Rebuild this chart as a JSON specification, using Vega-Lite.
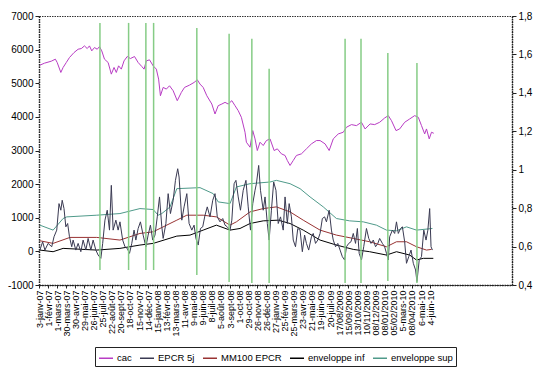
{
  "$schema": "https://vega.github.io/schema/vega-lite/v6.json",
  "width": 473,
  "height": 269,
  "autosize": {"type": "none"},
  "padding": {"left": 39, "top": 16, "right": 33, "bottom": 87},
  "background": "white",
  "config": {
    "view": {"stroke": "#333333", "strokeDash": [1.5, 1]},
    "font": "Liberation Sans",
    "axis": {"grid": false, "labelFont": "Liberation Sans", "labelColor": "black", "domainColor": "#222222", "tickColor": "#222222", "domainDash": [1.5, 1], "domainWidth": 1.5, "title": null},
    "axisX": {"labelOverlap": false, "labelSeparation": 0}
  },
  "datasets": {
    "series": [
      {"serie": "cac", "jour": 2, "valeur": 5538}, {"serie": "cac", "jour": 12, "valeur": 5597}, {"serie": "cac", "jour": 27, "valeur": 5656}, {"serie": "cac", "jour": 36, "valeur": 5716}, {"serie": "cac", "jour": 40, "valeur": 5617}, {"serie": "cac", "jour": 48, "valeur": 5321}, {"serie": "cac", "jour": 53, "valeur": 5469}, {"serie": "cac", "jour": 60, "valeur": 5617}, {"serie": "cac", "jour": 67, "valeur": 5765}, {"serie": "cac", "jour": 77, "valeur": 5913}, {"serie": "cac", "jour": 86, "valeur": 6012}, {"serie": "cac", "jour": 93, "valeur": 6032}, {"serie": "cac", "jour": 100, "valeur": 6111}, {"serie": "cac", "jour": 106, "valeur": 6032}, {"serie": "cac", "jour": 111, "valeur": 6111}, {"serie": "cac", "jour": 116, "valeur": 5963}, {"serie": "cac", "jour": 122, "valeur": 6062}, {"serie": "cac", "jour": 128, "valeur": 6012}, {"serie": "cac", "jour": 133, "valeur": 6091}, {"serie": "cac", "jour": 138, "valeur": 5963}, {"serie": "cac", "jour": 144, "valeur": 5716}, {"serie": "cac", "jour": 152, "valeur": 5617}, {"serie": "cac", "jour": 159, "valeur": 5271}, {"serie": "cac", "jour": 165, "valeur": 5469}, {"serie": "cac", "jour": 170, "valeur": 5321}, {"serie": "cac", "jour": 175, "valeur": 5518}, {"serie": "cac", "jour": 181, "valeur": 5420}, {"serie": "cac", "jour": 187, "valeur": 5666}, {"serie": "cac", "jour": 194, "valeur": 5795}, {"serie": "cac", "jour": 201, "valeur": 5735}, {"serie": "cac", "jour": 210, "valeur": 5795}, {"serie": "cac", "jour": 218, "valeur": 5617}, {"serie": "cac", "jour": 226, "valeur": 5498}, {"serie": "cac", "jour": 231, "valeur": 5420}, {"serie": "cac", "jour": 236, "valeur": 5666}, {"serie": "cac", "jour": 243, "valeur": 5696}, {"serie": "cac", "jour": 251, "valeur": 5518}, {"serie": "cac", "jour": 258, "valeur": 5420}, {"serie": "cac", "jour": 263, "valeur": 5123}, {"serie": "cac", "jour": 267, "valeur": 4629}, {"serie": "cac", "jour": 273, "valeur": 4876}, {"serie": "cac", "jour": 280, "valeur": 4827}, {"serie": "cac", "jour": 287, "valeur": 4925}, {"serie": "cac", "jour": 295, "valeur": 4777}, {"serie": "cac", "jour": 304, "valeur": 4481}, {"serie": "cac", "jour": 313, "valeur": 4728}, {"serie": "cac", "jour": 320, "valeur": 4876}, {"serie": "cac", "jour": 331, "valeur": 4945}, {"serie": "cac", "jour": 341, "valeur": 5024}, {"serie": "cac", "jour": 348, "valeur": 5103}, {"serie": "cac", "jour": 354, "valeur": 4975}, {"serie": "cac", "jour": 361, "valeur": 4876}, {"serie": "cac", "jour": 369, "valeur": 4629}, {"serie": "cac", "jour": 380, "valeur": 4382}, {"serie": "cac", "jour": 387, "valeur": 4086}, {"serie": "cac", "jour": 394, "valeur": 4333}, {"serie": "cac", "jour": 402, "valeur": 4382}, {"serie": "cac", "jour": 409, "valeur": 4432}, {"serie": "cac", "jour": 416, "valeur": 4382}, {"serie": "cac", "jour": 424, "valeur": 4481}, {"serie": "cac", "jour": 431, "valeur": 4333}, {"serie": "cac", "jour": 438, "valeur": 4185}, {"serie": "cac", "jour": 445, "valeur": 3987}, {"serie": "cac", "jour": 453, "valeur": 3543}, {"serie": "cac", "jour": 456, "valeur": 3246}, {"serie": "cac", "jour": 464, "valeur": 3098}, {"serie": "cac", "jour": 470, "valeur": 3592}, {"serie": "cac", "jour": 475, "valeur": 3345}, {"serie": "cac", "jour": 480, "valeur": 2999}, {"serie": "cac", "jour": 486, "valeur": 3246}, {"serie": "cac", "jour": 493, "valeur": 3148}, {"serie": "cac", "jour": 500, "valeur": 3296}, {"serie": "cac", "jour": 508, "valeur": 3345}, {"serie": "cac", "jour": 517, "valeur": 2999}, {"serie": "cac", "jour": 524, "valeur": 3049}, {"serie": "cac", "jour": 533, "valeur": 2901}, {"serie": "cac", "jour": 541, "valeur": 2852}, {"serie": "cac", "jour": 546, "valeur": 2703}, {"serie": "cac", "jour": 552, "valeur": 2555}, {"serie": "cac", "jour": 559, "valeur": 2703}, {"serie": "cac", "jour": 566, "valeur": 2852}, {"serie": "cac", "jour": 577, "valeur": 2901}, {"serie": "cac", "jour": 588, "valeur": 3049}, {"serie": "cac", "jour": 599, "valeur": 3197}, {"serie": "cac", "jour": 610, "valeur": 3296}, {"serie": "cac", "jour": 618, "valeur": 3296}, {"serie": "cac", "jour": 629, "valeur": 3197}, {"serie": "cac", "jour": 638, "valeur": 2999}, {"serie": "cac", "jour": 647, "valeur": 3345}, {"serie": "cac", "jour": 658, "valeur": 3493}, {"serie": "cac", "jour": 669, "valeur": 3543}, {"serie": "cac", "jour": 676, "valeur": 3691}, {"serie": "cac", "jour": 687, "valeur": 3770}, {"serie": "cac", "jour": 698, "valeur": 3740}, {"serie": "cac", "jour": 709, "valeur": 3839}, {"serie": "cac", "jour": 717, "valeur": 3641}, {"serie": "cac", "jour": 728, "valeur": 3790}, {"serie": "cac", "jour": 738, "valeur": 3770}, {"serie": "cac", "jour": 749, "valeur": 3839}, {"serie": "cac", "jour": 760, "valeur": 3967}, {"serie": "cac", "jour": 768, "valeur": 4037}, {"serie": "cac", "jour": 775, "valeur": 3888}, {"serie": "cac", "jour": 785, "valeur": 3592}, {"serie": "cac", "jour": 793, "valeur": 3641}, {"serie": "cac", "jour": 804, "valeur": 3839}, {"serie": "cac", "jour": 815, "valeur": 3938}, {"serie": "cac", "jour": 826, "valeur": 4037}, {"serie": "cac", "jour": 834, "valeur": 3987}, {"serie": "cac", "jour": 841, "valeur": 3740}, {"serie": "cac", "jour": 848, "valeur": 3493}, {"serie": "cac", "jour": 852, "valeur": 3641}, {"serie": "cac", "jour": 858, "valeur": 3345}, {"serie": "cac", "jour": 863, "valeur": 3543}, {"serie": "cac", "jour": 868, "valeur": 3513},

      {"serie": "enveloppe sup", "jour": 2, "valeur": 780}, {"serie": "enveloppe sup", "jour": 31, "valeur": 632}, {"serie": "enveloppe sup", "jour": 53, "valeur": 977}, {"serie": "enveloppe sup", "jour": 61, "valeur": 1026}, {"serie": "enveloppe sup", "jour": 127, "valeur": 1076}, {"serie": "enveloppe sup", "jour": 178, "valeur": 1125}, {"serie": "enveloppe sup", "jour": 222, "valeur": 1273}, {"serie": "enveloppe sup", "jour": 251, "valeur": 1244}, {"serie": "enveloppe sup", "jour": 262, "valeur": 1076}, {"serie": "enveloppe sup", "jour": 270, "valeur": 1125}, {"serie": "enveloppe sup", "jour": 288, "valeur": 1320}, {"serie": "enveloppe sup", "jour": 303, "valeur": 1865}, {"serie": "enveloppe sup", "jour": 354, "valeur": 1895}, {"serie": "enveloppe sup", "jour": 383, "valeur": 1717}, {"serie": "enveloppe sup", "jour": 394, "valeur": 1471}, {"serie": "enveloppe sup", "jour": 420, "valeur": 1421}, {"serie": "enveloppe sup", "jour": 434, "valeur": 1915}, {"serie": "enveloppe sup", "jour": 464, "valeur": 2013}, {"serie": "enveloppe sup", "jour": 508, "valeur": 2063}, {"serie": "enveloppe sup", "jour": 522, "valeur": 2112}, {"serie": "enveloppe sup", "jour": 552, "valeur": 2013}, {"serie": "enveloppe sup", "jour": 574, "valeur": 1865}, {"serie": "enveloppe sup", "jour": 596, "valeur": 1619}, {"serie": "enveloppe sup", "jour": 625, "valeur": 1323}, {"serie": "enveloppe sup", "jour": 654, "valeur": 977}, {"serie": "enveloppe sup", "jour": 683, "valeur": 908}, {"serie": "enveloppe sup", "jour": 713, "valeur": 878}, {"serie": "enveloppe sup", "jour": 742, "valeur": 780}, {"serie": "enveloppe sup", "jour": 764, "valeur": 632}, {"serie": "enveloppe sup", "jour": 786, "valeur": 612}, {"serie": "enveloppe sup", "jour": 808, "valeur": 730}, {"serie": "enveloppe sup", "jour": 830, "valeur": 632}, {"serie": "enveloppe sup", "jour": 865, "valeur": 681},

      {"serie": "MM100 EPCR", "jour": 2, "valeur": 316}, {"serie": "MM100 EPCR", "jour": 31, "valeur": 237}, {"serie": "MM100 EPCR", "jour": 68, "valeur": 415}, {"serie": "MM100 EPCR", "jour": 127, "valeur": 415}, {"serie": "MM100 EPCR", "jour": 178, "valeur": 336}, {"serie": "MM100 EPCR", "jour": 222, "valeur": 533}, {"serie": "MM100 EPCR", "jour": 251, "valeur": 582}, {"serie": "MM100 EPCR", "jour": 303, "valeur": 928}, {"serie": "MM100 EPCR", "jour": 325, "valeur": 1076}, {"serie": "MM100 EPCR", "jour": 361, "valeur": 1076}, {"serie": "MM100 EPCR", "jour": 390, "valeur": 1026}, {"serie": "MM100 EPCR", "jour": 420, "valeur": 780}, {"serie": "MM100 EPCR", "jour": 434, "valeur": 878}, {"serie": "MM100 EPCR", "jour": 464, "valeur": 1174}, {"serie": "MM100 EPCR", "jour": 493, "valeur": 1273}, {"serie": "MM100 EPCR", "jour": 522, "valeur": 1323}, {"serie": "MM100 EPCR", "jour": 552, "valeur": 1174}, {"serie": "MM100 EPCR", "jour": 581, "valeur": 928}, {"serie": "MM100 EPCR", "jour": 618, "valeur": 632}, {"serie": "MM100 EPCR", "jour": 654, "valeur": 484}, {"serie": "MM100 EPCR", "jour": 691, "valeur": 385}, {"serie": "MM100 EPCR", "jour": 727, "valeur": 286}, {"serie": "MM100 EPCR", "jour": 764, "valeur": 138}, {"serie": "MM100 EPCR", "jour": 786, "valeur": 286}, {"serie": "MM100 EPCR", "jour": 808, "valeur": 286}, {"serie": "MM100 EPCR", "jour": 830, "valeur": 138}, {"serie": "MM100 EPCR", "jour": 852, "valeur": 39}, {"serie": "MM100 EPCR", "jour": 863, "valeur": 59},

      {"serie": "enveloppe inf", "jour": 2, "valeur": 39}, {"serie": "enveloppe inf", "jour": 31, "valeur": -10}, {"serie": "enveloppe inf", "jour": 53, "valeur": 89}, {"serie": "enveloppe inf", "jour": 127, "valeur": 39}, {"serie": "enveloppe inf", "jour": 178, "valeur": 89}, {"serie": "enveloppe inf", "jour": 222, "valeur": 188}, {"serie": "enveloppe inf", "jour": 251, "valeur": 237}, {"serie": "enveloppe inf", "jour": 303, "valeur": 454}, {"serie": "enveloppe inf", "jour": 332, "valeur": 484}, {"serie": "enveloppe inf", "jour": 361, "valeur": 632}, {"serie": "enveloppe inf", "jour": 390, "valeur": 780}, {"serie": "enveloppe inf", "jour": 420, "valeur": 632}, {"serie": "enveloppe inf", "jour": 442, "valeur": 681}, {"serie": "enveloppe inf", "jour": 464, "valeur": 829}, {"serie": "enveloppe inf", "jour": 493, "valeur": 908}, {"serie": "enveloppe inf", "jour": 526, "valeur": 928}, {"serie": "enveloppe inf", "jour": 552, "valeur": 829}, {"serie": "enveloppe inf", "jour": 581, "valeur": 632}, {"serie": "enveloppe inf", "jour": 618, "valeur": 336}, {"serie": "enveloppe inf", "jour": 654, "valeur": 188}, {"serie": "enveloppe inf", "jour": 691, "valeur": 59}, {"serie": "enveloppe inf", "jour": 727, "valeur": -10}, {"serie": "enveloppe inf", "jour": 764, "valeur": -109}, {"serie": "enveloppe inf", "jour": 786, "valeur": -10}, {"serie": "enveloppe inf", "jour": 815, "valeur": -109}, {"serie": "enveloppe inf", "jour": 830, "valeur": -257}, {"serie": "enveloppe inf", "jour": 845, "valeur": -207}, {"serie": "enveloppe inf", "jour": 867, "valeur": -207},

      {"serie": "EPCR 5j", "jour": 2, "valeur": 39}, {"serie": "EPCR 5j", "jour": 8, "valeur": 286}, {"serie": "EPCR 5j", "jour": 13, "valeur": 39}, {"serie": "EPCR 5j", "jour": 20, "valeur": 237}, {"serie": "EPCR 5j", "jour": 28, "valeur": 138}, {"serie": "EPCR 5j", "jour": 33, "valeur": 434}, {"serie": "EPCR 5j", "jour": 39, "valeur": 632}, {"serie": "EPCR 5j", "jour": 44, "valeur": 1421}, {"serie": "EPCR 5j", "jour": 48, "valeur": 1224}, {"serie": "EPCR 5j", "jour": 51, "valeur": 1520}, {"serie": "EPCR 5j", "jour": 55, "valeur": 1273}, {"serie": "EPCR 5j", "jour": 59, "valeur": 730}, {"serie": "EPCR 5j", "jour": 63, "valeur": 829}, {"serie": "EPCR 5j", "jour": 67, "valeur": 434}, {"serie": "EPCR 5j", "jour": 72, "valeur": 138}, {"serie": "EPCR 5j", "jour": 75, "valeur": 336}, {"serie": "EPCR 5j", "jour": 81, "valeur": 39}, {"serie": "EPCR 5j", "jour": 86, "valeur": 237}, {"serie": "EPCR 5j", "jour": 92, "valeur": -10}, {"serie": "EPCR 5j", "jour": 97, "valeur": 336}, {"serie": "EPCR 5j", "jour": 103, "valeur": 39}, {"serie": "EPCR 5j", "jour": 108, "valeur": 385}, {"serie": "EPCR 5j", "jour": 114, "valeur": 39}, {"serie": "EPCR 5j", "jour": 119, "valeur": 336}, {"serie": "EPCR 5j", "jour": 125, "valeur": 39}, {"serie": "EPCR 5j", "jour": 130, "valeur": -109}, {"serie": "EPCR 5j", "jour": 136, "valeur": -207}, {"serie": "EPCR 5j", "jour": 140, "valeur": 237}, {"serie": "EPCR 5j", "jour": 145, "valeur": 928}, {"serie": "EPCR 5j", "jour": 150, "valeur": 1224}, {"serie": "EPCR 5j", "jour": 155, "valeur": 632}, {"serie": "EPCR 5j", "jour": 159, "valeur": 1964}, {"serie": "EPCR 5j", "jour": 163, "valeur": 632}, {"serie": "EPCR 5j", "jour": 169, "valeur": 928}, {"serie": "EPCR 5j", "jour": 174, "valeur": 632}, {"serie": "EPCR 5j", "jour": 178, "valeur": 878}, {"serie": "EPCR 5j", "jour": 184, "valeur": 336}, {"serie": "EPCR 5j", "jour": 189, "valeur": 138}, {"serie": "EPCR 5j", "jour": 194, "valeur": 89}, {"serie": "EPCR 5j", "jour": 199, "valeur": -59}, {"serie": "EPCR 5j", "jour": 204, "valeur": 237}, {"serie": "EPCR 5j", "jour": 209, "valeur": 632}, {"serie": "EPCR 5j", "jour": 213, "valeur": 336}, {"serie": "EPCR 5j", "jour": 218, "valeur": 681}, {"serie": "EPCR 5j", "jour": 223, "valeur": 878}, {"serie": "EPCR 5j", "jour": 229, "valeur": 484}, {"serie": "EPCR 5j", "jour": 235, "valeur": 138}, {"serie": "EPCR 5j", "jour": 240, "valeur": 484}, {"serie": "EPCR 5j", "jour": 245, "valeur": 780}, {"serie": "EPCR 5j", "jour": 250, "valeur": 336}, {"serie": "EPCR 5j", "jour": 255, "valeur": 484}, {"serie": "EPCR 5j", "jour": 260, "valeur": 1026}, {"serie": "EPCR 5j", "jour": 265, "valeur": 1619}, {"serie": "EPCR 5j", "jour": 270, "valeur": 730}, {"serie": "EPCR 5j", "jour": 273, "valeur": 385}, {"serie": "EPCR 5j", "jour": 279, "valeur": 829}, {"serie": "EPCR 5j", "jour": 284, "valeur": 1717}, {"serie": "EPCR 5j", "jour": 289, "valeur": 1125}, {"serie": "EPCR 5j", "jour": 295, "valeur": 1520}, {"serie": "EPCR 5j", "jour": 300, "valeur": 2112}, {"serie": "EPCR 5j", "jour": 305, "valeur": 2458}, {"serie": "EPCR 5j", "jour": 308, "valeur": 2211}, {"serie": "EPCR 5j", "jour": 314, "valeur": 928}, {"serie": "EPCR 5j", "jour": 319, "valeur": 1323}, {"serie": "EPCR 5j", "jour": 325, "valeur": 1717}, {"serie": "EPCR 5j", "jour": 330, "valeur": 829}, {"serie": "EPCR 5j", "jour": 336, "valeur": 632}, {"serie": "EPCR 5j", "jour": 341, "valeur": 780}, {"serie": "EPCR 5j", "jour": 345, "valeur": 385}, {"serie": "EPCR 5j", "jour": 350, "valeur": 188}, {"serie": "EPCR 5j", "jour": 355, "valeur": 681}, {"serie": "EPCR 5j", "jour": 360, "valeur": 730}, {"serie": "EPCR 5j", "jour": 365, "valeur": 1076}, {"serie": "EPCR 5j", "jour": 370, "valeur": 1323}, {"serie": "EPCR 5j", "jour": 376, "valeur": 1026}, {"serie": "EPCR 5j", "jour": 382, "valeur": 1520}, {"serie": "EPCR 5j", "jour": 387, "valeur": 1717}, {"serie": "EPCR 5j", "jour": 392, "valeur": 1026}, {"serie": "EPCR 5j", "jour": 398, "valeur": 878}, {"serie": "EPCR 5j", "jour": 404, "valeur": 977}, {"serie": "EPCR 5j", "jour": 409, "valeur": 780}, {"serie": "EPCR 5j", "jour": 414, "valeur": 730}, {"serie": "EPCR 5j", "jour": 420, "valeur": 632}, {"serie": "EPCR 5j", "jour": 424, "valeur": 928}, {"serie": "EPCR 5j", "jour": 429, "valeur": 2013}, {"serie": "EPCR 5j", "jour": 433, "valeur": 2112}, {"serie": "EPCR 5j", "jour": 438, "valeur": 1619}, {"serie": "EPCR 5j", "jour": 443, "valeur": 1224}, {"serie": "EPCR 5j", "jour": 449, "valeur": 1816}, {"serie": "EPCR 5j", "jour": 455, "valeur": 2112}, {"serie": "EPCR 5j", "jour": 460, "valeur": 1323}, {"serie": "EPCR 5j", "jour": 465, "valeur": 632}, {"serie": "EPCR 5j", "jour": 470, "valeur": 1421}, {"serie": "EPCR 5j", "jour": 475, "valeur": 1816}, {"serie": "EPCR 5j", "jour": 478, "valeur": 2013}, {"serie": "EPCR 5j", "jour": 483, "valeur": 2556}, {"serie": "EPCR 5j", "jour": 487, "valeur": 1816}, {"serie": "EPCR 5j", "jour": 493, "valeur": 1224}, {"serie": "EPCR 5j", "jour": 497, "valeur": 1619}, {"serie": "EPCR 5j", "jour": 502, "valeur": 829}, {"serie": "EPCR 5j", "jour": 506, "valeur": 336}, {"serie": "EPCR 5j", "jour": 511, "valeur": 1224}, {"serie": "EPCR 5j", "jour": 516, "valeur": 2063}, {"serie": "EPCR 5j", "jour": 521, "valeur": 1816}, {"serie": "EPCR 5j", "jour": 526, "valeur": 829}, {"serie": "EPCR 5j", "jour": 531, "valeur": 1026}, {"serie": "EPCR 5j", "jour": 537, "valeur": 632}, {"serie": "EPCR 5j", "jour": 541, "valeur": 1619}, {"serie": "EPCR 5j", "jour": 546, "valeur": 829}, {"serie": "EPCR 5j", "jour": 550, "valeur": 1421}, {"serie": "EPCR 5j", "jour": 555, "valeur": 1026}, {"serie": "EPCR 5j", "jour": 559, "valeur": 336}, {"serie": "EPCR 5j", "jour": 564, "valeur": 138}, {"serie": "EPCR 5j", "jour": 569, "valeur": 681}, {"serie": "EPCR 5j", "jour": 574, "valeur": 632}, {"serie": "EPCR 5j", "jour": 579, "valeur": -10}, {"serie": "EPCR 5j", "jour": 584, "valeur": 484}, {"serie": "EPCR 5j", "jour": 588, "valeur": 237}, {"serie": "EPCR 5j", "jour": 593, "valeur": 39}, {"serie": "EPCR 5j", "jour": 599, "valeur": 434}, {"serie": "EPCR 5j", "jour": 603, "valeur": 533}, {"serie": "EPCR 5j", "jour": 608, "valeur": 237}, {"serie": "EPCR 5j", "jour": 613, "valeur": 336}, {"serie": "EPCR 5j", "jour": 618, "valeur": 533}, {"serie": "EPCR 5j", "jour": 623, "valeur": 977}, {"serie": "EPCR 5j", "jour": 628, "valeur": 1026}, {"serie": "EPCR 5j", "jour": 632, "valeur": 878}, {"serie": "EPCR 5j", "jour": 638, "valeur": 1224}, {"serie": "EPCR 5j", "jour": 643, "valeur": 632}, {"serie": "EPCR 5j", "jour": 647, "valeur": 336}, {"serie": "EPCR 5j", "jour": 652, "valeur": 138}, {"serie": "EPCR 5j", "jour": 657, "valeur": 237}, {"serie": "EPCR 5j", "jour": 662, "valeur": 39}, {"serie": "EPCR 5j", "jour": 667, "valeur": -158}, {"serie": "EPCR 5j", "jour": 672, "valeur": -257}, {"serie": "EPCR 5j", "jour": 676, "valeur": 138}, {"serie": "EPCR 5j", "jour": 681, "valeur": 237}, {"serie": "EPCR 5j", "jour": 686, "valeur": 286}, {"serie": "EPCR 5j", "jour": 691, "valeur": 533}, {"serie": "EPCR 5j", "jour": 696, "valeur": 237}, {"serie": "EPCR 5j", "jour": 700, "valeur": 681}, {"serie": "EPCR 5j", "jour": 704, "valeur": -59}, {"serie": "EPCR 5j", "jour": 709, "valeur": -257}, {"serie": "EPCR 5j", "jour": 714, "valeur": 138}, {"serie": "EPCR 5j", "jour": 720, "valeur": 681}, {"serie": "EPCR 5j", "jour": 725, "valeur": 385}, {"serie": "EPCR 5j", "jour": 730, "valeur": 237}, {"serie": "EPCR 5j", "jour": 735, "valeur": 336}, {"serie": "EPCR 5j", "jour": 740, "valeur": 138}, {"serie": "EPCR 5j", "jour": 745, "valeur": 237}, {"serie": "EPCR 5j", "jour": 749, "valeur": 385}, {"serie": "EPCR 5j", "jour": 755, "valeur": 237}, {"serie": "EPCR 5j", "jour": 760, "valeur": 138}, {"serie": "EPCR 5j", "jour": 764, "valeur": -59}, {"serie": "EPCR 5j", "jour": 768, "valeur": -257}, {"serie": "EPCR 5j", "jour": 771, "valeur": 434}, {"serie": "EPCR 5j", "jour": 777, "valeur": 632}, {"serie": "EPCR 5j", "jour": 782, "valeur": 533}, {"serie": "EPCR 5j", "jour": 786, "valeur": 878}, {"serie": "EPCR 5j", "jour": 790, "valeur": 533}, {"serie": "EPCR 5j", "jour": 795, "valeur": 681}, {"serie": "EPCR 5j", "jour": 799, "valeur": 730}, {"serie": "EPCR 5j", "jour": 804, "valeur": 286}, {"serie": "EPCR 5j", "jour": 808, "valeur": -355}, {"serie": "EPCR 5j", "jour": 813, "valeur": -158}, {"serie": "EPCR 5j", "jour": 818, "valeur": 39}, {"serie": "EPCR 5j", "jour": 823, "valeur": -355}, {"serie": "EPCR 5j", "jour": 828, "valeur": -553}, {"serie": "EPCR 5j", "jour": 831, "valeur": -898}, {"serie": "EPCR 5j", "jour": 836, "valeur": -257}, {"serie": "EPCR 5j", "jour": 841, "valeur": -158}, {"serie": "EPCR 5j", "jour": 846, "valeur": 632}, {"serie": "EPCR 5j", "jour": 851, "valeur": 336}, {"serie": "EPCR 5j", "jour": 855, "valeur": 632}, {"serie": "EPCR 5j", "jour": 859, "valeur": 1273}, {"serie": "EPCR 5j", "jour": 862, "valeur": 138}, {"serie": "EPCR 5j", "jour": 865, "valeur": 39}
    ],
    "signaux": [
      {"jour": 134, "haut": 1.764, "bas": 0.478}, {"jour": 197, "haut": 1.764, "bas": 0.478}, {"jour": 235, "haut": 1.764, "bas": 0.478}, {"jour": 252, "haut": 1.764, "bas": 0.478}, {"jour": 347, "haut": 1.738, "bas": 0.452}, {"jour": 418, "haut": 1.707, "bas": 0.416}, {"jour": 468, "haut": 1.681, "bas": 0.411}, {"jour": 506, "haut": 1.525, "bas": 0.411}, {"jour": 673, "haut": 1.681, "bas": 0.411}, {"jour": 708, "haut": 1.681, "bas": 0.411}, {"jour": 767, "haut": 1.608, "bas": 0.421}, {"jour": 831, "haut": 1.556, "bas": 0.411}
    ]
  },
  "layer": [
    {
      "data": {"name": "series"},
      "mark": {"type": "line", "strokeWidth": 1},
      "encoding": {
        "x": {"field": "jour", "type": "quantitative", "scale": {"domain": [0, 1040], "nice": false, "zero": false},
          "axis": {"values": [0,20,40,60,80,100,120,140,160,180,200,220,240,260,280,300,320,340,360,380,400,420,440,460,480,500,520,540,560,580,600,620,640,660,680,700,720,740,760,780,800,820,840,860],
            "tickCount": 100,
            "labelExpr": "['3-janv-07','1-févr-07','1-mars-07','30-mars-07','30-avr-07','29-mai-07','26-juin-07','25-juil-07','22-août-07','20-sept-07','18-oct-07','15-nov-07','14-déc-07','15-janv-08','13-févr-08','13-mars-08','11-avr-08','9-mai-08','9-juin-08','8-juil-08','5-août-08','3-sept-08','1-oct-08','29-oct-08','26-nov-08','26-déc-08','27-janv-09','25-févr-09','25-mars-09','23-avr-09','21-mai-09','19-juin-09','20-juil-09','17/08/2009','15/09/2009','13/10/2009','10/11/2009','08/12/2009','08/01/2010','05/02/2010','5-mars-10','08/04/2010','6-mai-10','4-juin-10'][datum.value / 20]",
            "labelAngle": -90, "labelFontSize": 9, "tickSize": 3, "labelPadding": 2, "labelOverlap": false, "labelSeparation": 0, "labelFlush": false, "labelBound": false}},
        "y": {"field": "valeur", "type": "quantitative", "scale": {"domain": [-1000, 7000], "nice": false, "zero": false},
          "axis": {"values": [-1000,0,1000,2000,3000,4000,5000,6000,7000], "tickCount": 20, "labelExpr": "'' + datum.value", "labelFontSize": 10, "tickSize": 4, "labelPadding": 2}},
        "color": {"field": "serie", "type": "nominal",
          "scale": {"domain": ["cac", "EPCR 5j", "MM100 EPCR", "enveloppe inf", "enveloppe sup"], "range": ["#b83cc4", "#3a3a52", "#993333", "#000000", "#4f9a8a"]},
          "legend": {"orient": "none", "legendX": 56, "legendY": 331, "direction": "horizontal", "title": null, "strokeColor": "#222222", "fillColor": "white", "padding": 3, "symbolType": "stroke", "symbolSize": 196, "symbolStrokeWidth": 1.5, "labelFontSize": 9.5, "labelFont": "Liberation Sans", "labelColor": "black", "columnPadding": 5, "labelOffset": 3}}
      }
    },
    {
      "data": {"name": "signaux"},
      "mark": {"type": "rule", "color": "#86cc86", "strokeWidth": 1.5},
      "encoding": {
        "x": {"field": "jour", "type": "quantitative"},
        "y": {"field": "haut", "type": "quantitative", "scale": {"domain": [0.4, 1.8], "nice": false, "zero": false},
          "axis": {"orient": "right", "values": [0.4,0.6,0.8,1,1.2,1.4,1.6,1.8], "tickCount": 20, "labelExpr": "replace('' + datum.value, '.', ',')", "labelFontSize": 10, "tickSize": 4, "labelPadding": 2}},
        "y2": {"field": "bas"}
      }
    }
  ],
  "resolve": {"scale": {"y": "independent"}}
}
